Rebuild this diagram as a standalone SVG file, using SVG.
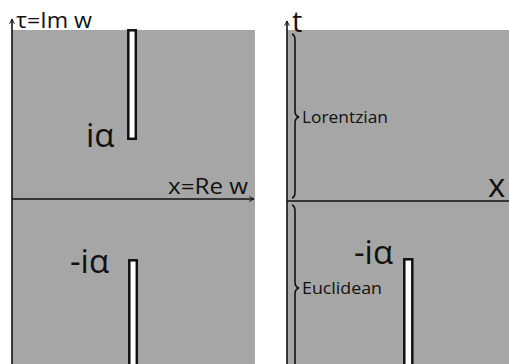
<svg xmlns="http://www.w3.org/2000/svg" width="509" height="364" viewBox="0 0 509 364">
<defs>
<style>
.panel{fill:#a6a6a6;stroke:none}
.slit{fill:#ffffff;stroke:#111;stroke-width:2.5}
.axis{fill:none;stroke:#111;stroke-width:1.6}
.brace{fill:none;stroke:#111;stroke-width:1.6}
text{font-family:"Open Sans","Liberation Sans",sans-serif;fill:#111}
.big{font-size:33px}
.tee{font-size:29px}
.mid{font-size:22.5px}
.small{font-size:16.5px}
</style>
<marker id="arr" viewBox="0 0 10 10" refX="9" refY="5" markerWidth="6" markerHeight="6" orient="auto" markerUnits="userSpaceOnUse">
<path d="M1,1 L9,5 L1,9" fill="none" stroke="#111" stroke-width="1.6"/>
</marker>
</defs>
<g id="left-panel">
<rect class="panel" x="12" y="30" width="243" height="334"/>
</g>
<g id="right-panel">
<rect class="panel" x="287" y="30" width="222" height="334"/>
</g>
<g id="left-slit-top">
<rect class="slit" x="128.3" y="30.3" width="7.5" height="108.5"/>
</g>
<g id="left-slit-bottom">
<rect class="slit" x="129.3" y="260.3" width="7.5" height="110"/>
</g>
<g id="right-slit">
<rect class="slit" x="404.3" y="259.3" width="8" height="110"/>
</g>
<g id="connectors">
<line class="axis" x1="12" y1="364" x2="12" y2="19" marker-end="url(#arr)"/>
<line class="axis" x1="12" y1="199" x2="254" y2="199" marker-end="url(#arr)"/>
<line class="axis" x1="287" y1="364" x2="287" y2="21" marker-end="url(#arr)"/>
<line class="axis" x1="287" y1="201" x2="509" y2="201"/>
</g>
<g id="brace-lorentzian">
<path class="brace" d="M292,34 Q295,35 295,40 L295,111 Q295,116 299,117 Q295,118 295,123 L295,192 Q295,197 292,198"/>
<text class="small" x="302" y="123" textLength="86" lengthAdjust="spacingAndGlyphs">Lorentzian</text>
</g>
<g id="brace-euclidean">
<path class="brace" d="M292,205 Q295,206 295,211 L295,282 Q295,287 299,288 Q295,289 295,294 L295,366"/>
<text class="small" x="302" y="294" textLength="80" lengthAdjust="spacingAndGlyphs">Euclidean</text>
</g>
<g id="labels">
<text class="mid" x="16" y="28" textLength="76" lengthAdjust="spacingAndGlyphs">τ=Im w</text>
<text class="mid" x="168" y="194" textLength="80" lengthAdjust="spacingAndGlyphs">x=Re w</text>
<text class="big" x="86" y="147">iα</text>
<text class="big" x="70" y="273">-iα</text>
<text class="tee" x="292" y="32">t</text>
<text class="big" x="488" y="197">x</text>
<text class="big" x="354" y="264">-iα</text>
</g>
</svg>
